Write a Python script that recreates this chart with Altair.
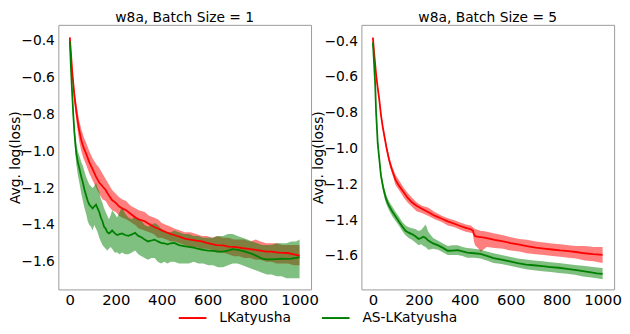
import altair as alt
import pandas as pd

# ---------------- data ----------------
methods = ["LKatyusha", "AS-LKatyusha"]
colors = ["#ff0000", "#008000"]
x_ticks = [0, 200, 400, 600, 800, 1000]
y_ticks = [-1.6, -1.4, -1.2, -1.0, -0.8, -0.6, -0.4]

# Batch size 1, LKatyusha
b1_lk_x = [0, 5, 10, 15, 20, 30, 40, 50, 60, 70, 85, 100, 115, 128, 142, 156, 170, 184, 200, 215,
           227, 245, 260, 270, 285, 300, 326, 345, 365, 383, 400, 420, 440, 454, 480, 500, 525, 550,
           575, 596, 620, 640, 667, 690, 715, 738, 760, 785, 809, 830, 855, 879, 900, 925, 950, 975, 1000]
b1_lk_mean = [-0.38, -0.47, -0.56, -0.63, -0.70, -0.80, -0.88, -0.94, -0.98, -1.01, -1.06, -1.10, -1.14,
              -1.17, -1.19, -1.21, -1.24, -1.265, -1.28, -1.30, -1.31, -1.32, -1.335, -1.345, -1.36,
              -1.37, -1.38, -1.395, -1.41, -1.42, -1.43, -1.44, -1.45, -1.455, -1.465, -1.475, -1.48,
              -1.485, -1.49, -1.498, -1.505, -1.51, -1.512, -1.518, -1.52, -1.524, -1.528, -1.532,
              -1.536, -1.54, -1.545, -1.546, -1.55, -1.552, -1.553, -1.56, -1.567]
b1_lk_hi = [-0.37, -0.45, -0.53, -0.60, -0.66, -0.75, -0.83, -0.88, -0.92, -0.95, -1.00, -1.04, -1.07,
            -1.09, -1.12, -1.15, -1.18, -1.21, -1.23, -1.25, -1.26, -1.27, -1.29, -1.30, -1.31, -1.32,
            -1.33, -1.35, -1.36, -1.37, -1.39, -1.40, -1.41, -1.42, -1.43, -1.44, -1.44, -1.45, -1.46,
            -1.46, -1.47, -1.46, -1.47, -1.47, -1.48, -1.48, -1.48, -1.49, -1.48, -1.49, -1.50, -1.50,
            -1.50, -1.51, -1.51, -1.51, -1.51]
b1_lk_lo = [-0.39, -0.49, -0.59, -0.66, -0.74, -0.85, -0.94, -1.00, -1.04, -1.07, -1.12, -1.16, -1.20,
            -1.23, -1.26, -1.27, -1.30, -1.32, -1.33, -1.35, -1.36, -1.37, -1.38, -1.39, -1.40, -1.42,
            -1.43, -1.44, -1.45, -1.47, -1.47, -1.48, -1.49, -1.49, -1.50, -1.51, -1.52, -1.52, -1.53,
            -1.53, -1.54, -1.55, -1.55, -1.56, -1.57, -1.57, -1.58, -1.58, -1.59, -1.59, -1.60, -1.60,
            -1.61, -1.61, -1.61, -1.62, -1.62]

# Batch size 1, AS-LKatyusha
b1_as_x = [0, 5, 10, 15, 20, 28, 35, 43, 50, 57, 64, 71, 78, 85, 92, 99, 106, 114, 121, 128, 135, 142,
           149, 156, 163, 170, 177, 184, 195, 206, 217, 227, 241, 255, 270, 284, 298, 312, 326, 340,
           355, 369, 383, 397, 411, 425, 440, 454, 475, 496, 518, 539, 560, 581, 603, 624, 645, 667,
           688, 709, 730, 752, 773, 794, 815, 837, 858, 879, 900, 922, 943, 964, 985, 1000]
b1_as_mean = [-0.40, -0.55, -0.68, -0.80, -0.90, -1.01, -1.06, -1.10, -1.14, -1.17, -1.21, -1.24, -1.27,
              -1.29, -1.30, -1.31, -1.30, -1.29, -1.31, -1.33, -1.36, -1.38, -1.41, -1.42, -1.44,
              -1.446, -1.44, -1.43, -1.445, -1.455, -1.45, -1.446, -1.455, -1.46, -1.452, -1.443,
              -1.46, -1.467, -1.48, -1.49, -1.485, -1.48, -1.49, -1.498, -1.50, -1.506, -1.50, -1.498,
              -1.51, -1.515, -1.52, -1.524, -1.53, -1.536, -1.54, -1.541, -1.545, -1.546, -1.54,
              -1.532, -1.536, -1.541, -1.55, -1.558, -1.57, -1.584, -1.588, -1.588, -1.586, -1.584,
              -1.585, -1.584, -1.58, -1.575]
b1_as_hi = [-0.38, -0.52, -0.64, -0.76, -0.86, -0.96, -1.00, -1.03, -1.06, -1.08, -1.11, -1.14, -1.16,
            -1.18, -1.19, -1.20, -1.19, -1.17, -1.20, -1.22, -1.26, -1.28, -1.31, -1.33, -1.35, -1.37,
            -1.35, -1.32, -1.34, -1.36, -1.33, -1.30, -1.34, -1.36, -1.37, -1.35, -1.37, -1.38, -1.40,
            -1.41, -1.40, -1.39, -1.40, -1.42, -1.43, -1.44, -1.44, -1.43, -1.44, -1.45, -1.45, -1.46,
            -1.46, -1.47, -1.47, -1.47, -1.46, -1.46, -1.45, -1.45, -1.46, -1.47, -1.48, -1.49, -1.50,
            -1.51, -1.51, -1.51, -1.50, -1.50, -1.50, -1.49, -1.49, -1.48]
b1_as_lo = [-0.42, -0.58, -0.72, -0.84, -0.95, -1.07, -1.13, -1.18, -1.23, -1.27, -1.31, -1.34, -1.38,
            -1.40, -1.41, -1.43, -1.40, -1.42, -1.44, -1.47, -1.49, -1.51, -1.52, -1.53, -1.54, -1.53,
            -1.52, -1.53, -1.55, -1.55, -1.56, -1.55, -1.56, -1.56, -1.55, -1.54, -1.56, -1.57, -1.58,
            -1.59, -1.58, -1.58, -1.60, -1.61, -1.60, -1.61, -1.60, -1.60, -1.61, -1.61, -1.61, -1.60,
            -1.61, -1.61, -1.62, -1.62, -1.63, -1.63, -1.62, -1.61, -1.61, -1.62, -1.63, -1.64, -1.65,
            -1.66, -1.67, -1.67, -1.68, -1.68, -1.69, -1.69, -1.69, -1.69]

# Batch size 5, LKatyusha
b5_lk_x = [0, 5, 10, 14, 20, 28, 35, 43, 50, 60, 70, 81, 99, 115, 135, 150, 170, 190, 213, 240, 269,
           300, 326, 355, 383, 405, 426, 435, 440, 445, 460, 470, 480, 496, 530, 567, 600, 638, 670,
           709, 745, 780, 815, 851, 885, 922, 960, 1000]
b5_lk_mean = [-0.38, -0.46, -0.53, -0.586, -0.65, -0.728, -0.81, -0.88, -0.93, -1.00, -1.06, -1.11,
              -1.177, -1.21, -1.246, -1.273, -1.30, -1.32, -1.336, -1.355, -1.375, -1.392, -1.407,
              -1.42, -1.434, -1.443, -1.451, -1.458, -1.478, -1.49, -1.493, -1.495, -1.496, -1.50,
              -1.51, -1.519, -1.528, -1.537, -1.545, -1.553, -1.559, -1.564, -1.569, -1.573, -1.578,
              -1.585, -1.59, -1.594]
b5_lk_hi = [-0.37, -0.45, -0.52, -0.575, -0.64, -0.715, -0.795, -0.865, -0.915, -0.985, -1.04, -1.09,
            -1.148, -1.18, -1.22, -1.245, -1.275, -1.30, -1.32, -1.33, -1.355, -1.375, -1.39, -1.40,
            -1.415, -1.425, -1.43, -1.44, -1.445, -1.45, -1.455, -1.46, -1.46, -1.465, -1.475,
            -1.485, -1.495, -1.505, -1.51, -1.52, -1.525, -1.53, -1.535, -1.54, -1.545, -1.545,
            -1.55, -1.55]
b5_lk_lo = [-0.39, -0.47, -0.54, -0.597, -0.66, -0.74, -0.825, -0.895, -0.945, -1.015, -1.08, -1.13,
            -1.205, -1.235, -1.275, -1.30, -1.325, -1.35, -1.36, -1.375, -1.395, -1.41, -1.43, -1.44,
            -1.455, -1.465, -1.47, -1.475, -1.52, -1.54, -1.56, -1.578, -1.565, -1.55, -1.555, -1.56,
            -1.57, -1.575, -1.585, -1.59, -1.595, -1.60, -1.605, -1.61, -1.615, -1.625, -1.63, -1.64]

# Batch size 5, AS-LKatyusha
b5_as_x = [0, 5, 10, 14, 17, 21, 28, 35, 45, 57, 70, 85, 99, 113, 128, 142, 156, 170, 185, 199, 210,
           220, 230, 241, 262, 284, 305, 326, 347, 369, 390, 411, 440, 468, 496, 525, 560, 596, 630,
           667, 700, 738, 775, 809, 845, 879, 915, 950, 975, 1000]
b5_as_mean = [-0.407, -0.52, -0.64, -0.80, -0.87, -0.97, -1.06, -1.15, -1.22, -1.28, -1.32, -1.353,
              -1.38, -1.407, -1.435, -1.46, -1.47, -1.478, -1.49, -1.505, -1.50, -1.493, -1.50,
              -1.514, -1.53, -1.541, -1.555, -1.571, -1.57, -1.568, -1.575, -1.582, -1.585, -1.589,
              -1.60, -1.612, -1.62, -1.63, -1.64, -1.648, -1.652, -1.657, -1.662, -1.666, -1.672,
              -1.678, -1.685, -1.692, -1.697, -1.70]
b5_as_hi = [-0.395, -0.505, -0.625, -0.785, -0.855, -0.955, -1.04, -1.125, -1.195, -1.255, -1.295,
            -1.325, -1.355, -1.38, -1.41, -1.43, -1.44, -1.445, -1.45, -1.46, -1.455, -1.44, -1.425,
            -1.465, -1.50, -1.515, -1.53, -1.545, -1.54, -1.54, -1.55, -1.555, -1.56, -1.565,
            -1.575, -1.585, -1.595, -1.605, -1.615, -1.62, -1.625, -1.63, -1.635, -1.64, -1.645,
            -1.65, -1.655, -1.66, -1.665, -1.668]
b5_as_lo = [-0.42, -0.535, -0.655, -0.815, -0.885, -0.985, -1.08, -1.17, -1.245, -1.305, -1.345,
            -1.38, -1.405, -1.43, -1.46, -1.485, -1.50, -1.51, -1.525, -1.54, -1.535, -1.545, -1.55,
            -1.565, -1.56, -1.565, -1.58, -1.595, -1.595, -1.595, -1.60, -1.61, -1.61, -1.615,
            -1.625, -1.64, -1.645, -1.655, -1.665, -1.675, -1.68, -1.685, -1.69, -1.695, -1.70,
            -1.705, -1.715, -1.72, -1.725, -1.73]


def table(xs, mean, lo, hi, method):
    return pd.DataFrame({"step": xs, "mean": mean, "lo": lo, "hi": hi, "method": method})


df1 = pd.concat([table(b1_lk_x, b1_lk_mean, b1_lk_lo, b1_lk_hi, methods[0]),
                 table(b1_as_x, b1_as_mean, b1_as_lo, b1_as_hi, methods[1])], ignore_index=True)
df5 = pd.concat([table(b5_lk_x, b5_lk_mean, b5_lk_lo, b5_lk_hi, methods[0]),
                 table(b5_as_x, b5_as_mean, b5_as_lo, b5_as_hi, methods[1])], ignore_index=True)

FONT = "DejaVu Sans"
W, H = 256, 268

LEGEND = alt.Legend(orient="bottom", direction="horizontal", offset=-5, padding=0,
                    title=" ", titleOrient="left", titlePadding=121,
                    titleFontSize=14, titleFont=FONT,
                    symbolType="stroke", symbolSize=784,
                    symbolStrokeWidth=2, labelFontSize=14, labelFont=FONT,
                    labelColor="black", labelOffset=12, columnPadding=27)


def panel(df, title, ydom):
    xenc = alt.X("step:Q",
                 scale=alt.Scale(domain=[-50, 1050], nice=False, zero=False),
                 axis=alt.Axis(values=x_ticks, format="d", title=None, grid=False,
                               domain=False, ticks=False, labelPadding=3,
                               labelFontSize=15, labelFont=FONT, labelColor="black"))
    yscale = alt.Scale(domain=ydom, nice=False, zero=False)
    yaxis = alt.Axis(values=y_ticks, format=".1f", title="Avg. log(loss)", grid=False,
                     domain=False, ticks=False, labelPadding=4, titlePadding=-2,
                     labelFontSize=14, labelFont=FONT, labelColor="black",
                     titleFontSize=14, titleFont=FONT, titleFontWeight="normal",
                     titleColor="black")
    cscale = alt.Scale(domain=methods, range=colors)
    layers = []
    for m, c in zip(methods, colors):
        layers.append(
            alt.Chart(df).transform_filter(alt.datum.method == m)
            .mark_area(opacity=0.5, color=c)
            .encode(x=xenc, y=alt.Y("hi:Q", scale=yscale, axis=yaxis), y2=alt.Y2("lo:Q"))
        )
    for m in methods:
        layers.append(
            alt.Chart(df).transform_filter(alt.datum.method == m)
            .mark_line(strokeWidth=1.8)
            .encode(x=xenc, y=alt.Y("mean:Q", scale=yscale, axis=yaxis),
                    color=alt.Color("method:N", scale=cscale, legend=LEGEND))
        )
    return alt.layer(*layers).properties(
        width=W, height=H,
        title=alt.TitleParams(title, fontSize=14, font=FONT, fontWeight="normal",
                              color="black", offset=0))


left = panel(df1, "w8a, Batch Size = 1", [-1.751, -0.312])
right = panel(df5, "w8a, Batch Size = 5", [-1.787, -0.309])

chart = (
    alt.hconcat(left, right, spacing=51, bounds="flush")
    .configure_view(stroke="#9a9a9a", strokeWidth=1)
    .configure_title(fontSize=14, font=FONT, fontWeight="normal", color="black")
    .properties(padding={"left": 0, "top": 0, "right": 0, "bottom": 0})
)

chart.save("out.html", embed_options={"renderer": "svg", "actions": False})
